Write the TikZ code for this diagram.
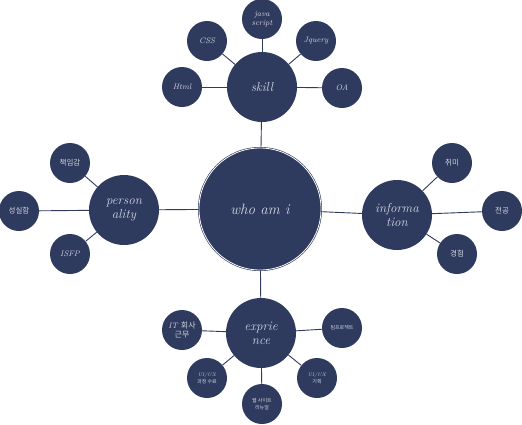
\documentclass[tikz,border=0pt]{standalone}
\usepackage{fontspec}
\newfontfamily\kr{Noto Sans CJK KR}
\usetikzlibrary{positioning}
\definecolor{navy}{HTML}{2E3A5E}
\definecolor{chalk}{HTML}{D3D6E0}
\tikzset{
    centernode/.style={
        circle,
        fill=navy,
        draw=navy, % 바깥 테두리
        double=white, % 안쪽 흰 선
        double distance=0.8pt,
        line width=0.6pt,
        minimum size=122pt,
        inner sep=0,
        text=chalk,
        font=\fontsize{15}{18}\selectfont\itshape
    },
    topicnode/.style={
        circle,
        fill=navy,
        minimum size=70pt,
        inner sep=0,
        align=center,
        text=chalk,
        font=\fontsize{13}{14}\selectfont\itshape
    },
    leafnode/.style={
        circle,
        fill=navy,
        minimum size=40pt,
        inner sep=0,
        align=center,
        text=chalk,
        font=\fontsize{8}{9}\selectfont\itshape
    },
    tinynode/.style={
        leafnode,
        font=\fontsize{5}{7}\selectfont\itshape
    },
    link/.style={draw=navy, line width=0.9pt}
}
\begin{document}
\begin{tikzpicture}[x=1pt, y=-1pt]
    \useasboundingbox (0,0) rectangle (522,424);
    % 가운데
    \node[centernode] (me) at (260,209) {who am i};
    % 주제
    \node[topicnode] (skill) at (262,87) {skill};
    \node[topicnode] (pers) at (124,210) {person\\ality};
    \node[topicnode] (info) at (397,215) {informa\\tion};
    \node[topicnode] (expr) at (261,333) {exprie\\nce};
    % skill
    \node[leafnode] (html) at (182,87) {Html};
    \node[leafnode] (css) at (207,41) {CSS};
    \node[leafnode] (js) at (262,19) {java\\script};
    \node[leafnode] (jq) at (316,41) {Jquery};
    \node[leafnode] (oa) at (342,88) {OA};
    % personality
    \node[leafnode, font=\fontsize{7.5}{9}\selectfont\kr] (resp) at (70,163) {책임감};
    \node[leafnode, font=\fontsize{7.5}{9}\selectfont\kr] (sinc) at (19,211) {성실함};
    \node[leafnode] (isfp) at (70,254) {ISFP};
    % information
    \node[leafnode, font=\fontsize{7.5}{9}\selectfont\kr] (hobby) at (452,163) {취미};
    \node[leafnode, font=\fontsize{7.5}{9}\selectfont\kr] (major) at (502,211) {전공};
    \node[leafnode, font=\fontsize{7.5}{9}\selectfont\kr] (exp) at (457,254) {경험};
    % exprience
    \node[leafnode] (it) at (182,330) {IT {\kr 회사}\\{\kr 근무}};
    \node[tinynode] (team) at (342,328) {\kr 팀프로젝트};
    \node[tinynode] (uicourse) at (207,378) {UI/UX\\{\kr 과정 수료}};
    \node[tinynode] (uiplan) at (317,378) {UI/UX\\{\kr 기획}};
    \node[tinynode] (web) at (262,404) {{\kr 웹 사이트}\\{\kr 리뉴얼}};
    % 연결선
    \draw[link] (me) -- (skill);
    \draw[link] (me) -- (pers);
    \draw[link] (me) -- (info);
    \draw[link] (me) -- (expr);
    \foreach \leaf in {html, css, js, jq, oa}
        \draw[link] (skill) -- (\leaf);
    \foreach \leaf in {resp, sinc, isfp}
        \draw[link] (pers) -- (\leaf);
    \foreach \leaf in {hobby, major, exp}
        \draw[link] (info) -- (\leaf);
    \foreach \leaf in {it, team, uicourse, uiplan, web}
        \draw[link] (expr) -- (\leaf);
\end{tikzpicture}
\end{document}
